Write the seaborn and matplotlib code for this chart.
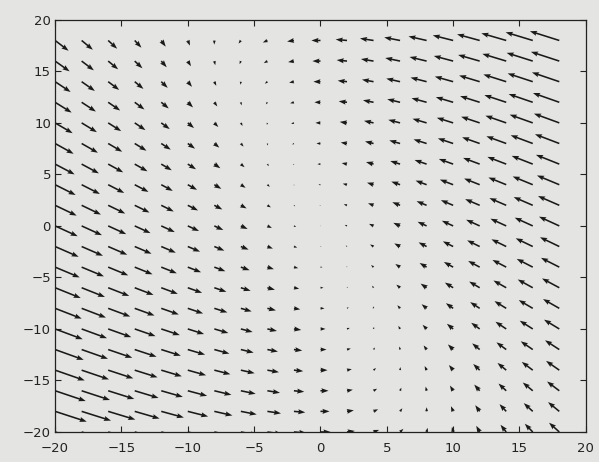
import numpy as np
import matplotlib
matplotlib.use("Agg")
import matplotlib.pyplot as plt
import seaborn as sns

# grid points of the direction field (x = -20..18, y = -20..18, step 2)
xs = [-20, -18, -16, -14, -12, -10, -8, -6, -4, -2, 0, 2, 4, 6, 8, 10, 12, 14, 16, 18]
ys = [-20, -18, -16, -14, -12, -10, -8, -6, -4, -2, 0, 2, 4, 6, 8, 10, 12, 14, 16, 18]

# linear field: [u, v] = A @ [x, y]  (drawn length, data units)
A = [[-0.085, -0.038],
     [0.050, 0.000]]

xticks = [-20, -15, -10, -5, 0, 5, 10, 15, 20]
yticks = [-20, -15, -10, -5, 0, 5, 10, 15, 20]

sns.set_theme(style="ticks")
plt.rcParams['font.family'] = ['DejaVu Sans']

X, Y = np.meshgrid(xs, ys)
U = A[0][0] * X + A[0][1] * Y
V = A[1][0] * X + A[1][1] * Y

bg = '#e4e4e2'
fig = plt.figure(figsize=(5.99, 4.62), dpi=100, facecolor=bg)
ax = fig.add_axes([0.092, 0.065, 0.886, 0.892])
ax.set_facecolor(bg)

ax.quiver(X, Y, U, V, angles='xy', scale_units='xy', scale=1,
          color='#1a1a1a', width=0.003, headwidth=3.2, headlength=4.5,
          headaxislength=4, minlength=0.3)

ax.set_xlim(-20, 20)
ax.set_ylim(-20, 20)
ax.set_xticks(xticks)
ax.set_yticks(yticks)
ax.tick_params(direction='in', top=True, right=True, length=4, width=0.8,
               labelsize=9.5, colors='#222222', pad=3)
ax.tick_params(axis='x', pad=7)
for s in ax.spines.values():
    s.set_color('#222222')
    s.set_linewidth(0.9)

fig.savefig("out.png", dpi=100, facecolor=bg)
